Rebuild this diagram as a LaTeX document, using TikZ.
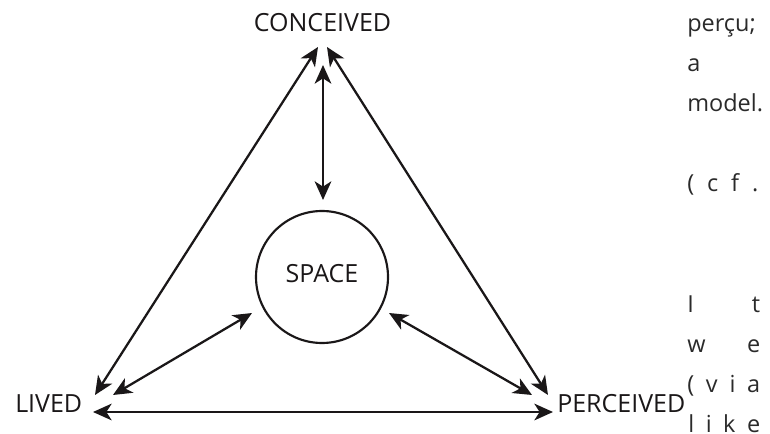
\documentclass[tikz,border=0pt]{standalone}
\usepackage{fontspec}
\setmainfont{Open Sans}
\usetikzlibrary{arrows.meta}
\definecolor{ink}{HTML}{1A1718}
\definecolor{coltext}{HTML}{2A2A2A}
\begin{document}
\begin{tikzpicture}[x=0.75pt,y=-0.75pt,
  lbl/.style={font=\fontsize{18.75pt}{22pt}\selectfont, inner sep=0pt, text=ink},
  col/.style={font=\fontsize{17.6pt}{20pt}\selectfont, inner sep=0pt, anchor=base west, text=coltext},
  arr/.style={draw=ink, line width=1.7pt, {Stealth[length=14pt,width=12.5pt,inset=4pt]}-{Stealth[length=14pt,width=12.5pt,inset=4pt]}},
  ring/.style={circle, draw=ink, line width=1.6pt, minimum size=99pt, inner sep=0pt}]
\useasboundingbox (0,0) rectangle (770,434);

% labels
\node[lbl, anchor=base] (conceived) at (322.5,32) {CONCEIVED};
\node[lbl, anchor=base west] (lived) at (15,412) {LIVED};
\node[lbl, anchor=base west] (perceived) at (557,412) {PERCEIVED};
\node[ring] (space) at (322,277) {};
\node[lbl, anchor=base] (spacelbl) at (322,283) {SPACE};

% arrow end points
\coordinate (cL) at (318,47);
\coordinate (cR) at (327,47);
\coordinate (cM) at (323,65);
\coordinate (sT) at (323,200);
\coordinate (sL) at (252,313);
\coordinate (sR) at (389,313);
\coordinate (lA) at (95,395);
\coordinate (lB) at (113,395);
\coordinate (lC) at (93,412);
\coordinate (pA) at (548,395);
\coordinate (pB) at (532,395);
\coordinate (pC) at (553,412);

% connectors
\draw[arr] (cL) -- (lA);
\draw[arr] (cR) -- (pA);
\draw[arr] (cM) -- (sT);
\draw[arr] (sL) -- (lB);
\draw[arr] (sR) -- (pB);
\draw[arr] (lC) -- (pC);

% right column text fragments
\node[col] (t1) at (687,32) {perçu;};
\node[col] (t2) at (687,72) {a};
\node[col] (t3) at (687,112) {model.};
\node[col] (t4) at (687,192) {\hbox to 53.25pt{(\hfil c\hfil f\hfil .}};
\node[col] (t5) at (687,312) {\hbox to 54.75pt{I\hfil t}};
\node[col] (t6) at (687,352) {\hbox to 54.75pt{w\hfil e}};
\node[col] (t7) at (687,392) {\hbox to 54.75pt{(\hfil v\hfil i\hfil a}};
\node[col] (t8) at (688,432) {\hbox to 54pt{l\hfil i\hfil k\hfil e}};
\end{tikzpicture}
\end{document}
